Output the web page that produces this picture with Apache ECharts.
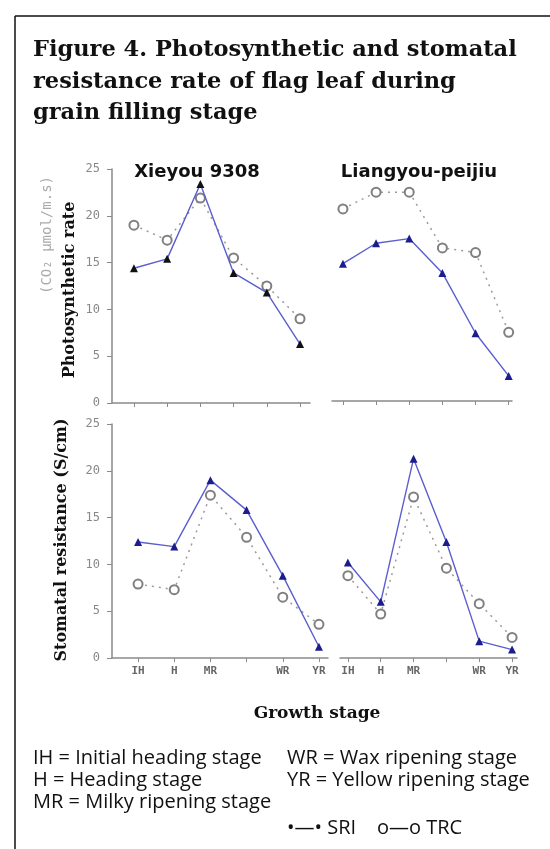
<!DOCTYPE html>
<html>
<head>
<meta charset="utf-8">
<script src="https://cdn.jsdelivr.net/npm/echarts@6/dist/echarts.min.js"></script>
<style>
  html, body { margin: 0; padding: 0; background: #fff; }
  #chart { width: 550px; height: 849px; }
</style>
</head>
<body>
<div id="chart"></div>
<script>
// growth stages (4th stage has no label in the original)
const stages = ['IH', 'H', 'MR', '', 'WR', 'YR'];
const stageIdx = [0, 1, 2, 3, 4, 5];

// photosynthetic rate
const xieyouPhotoSRI = [14.4, 15.4, 23.4, 13.9, 11.8, 6.3];
const xieyouPhotoTRC = [19.0, 17.4, 21.9, 15.5, 12.5, 9.0];
const liangyouPhotoSRI = [14.8, 17.0, 17.5, 13.8, 7.3, 2.7];
const liangyouPhotoTRC = [20.7, 22.5, 22.5, 16.5, 16.0, 7.4];

// stomatal resistance
const xieyouStomaSRI = [12.4, 11.9, 19.0, 15.8, 8.8, 1.2];
const xieyouStomaTRC = [7.9, 7.3, 17.4, 12.9, 6.5, 3.6];
const liangyouStomaSRI = [10.2, 6.0, 21.3, 12.4, 1.8, 0.9];
const liangyouStomaTRC = [8.8, 4.7, 17.2, 9.6, 5.8, 2.2];

const axisColor = '#8a8a8a';
const tickFont = '"DejaVu Sans Mono", monospace';

// panel layout: grid box + x range (in stage units)
const panels = [
  { left: 112, top: 169, width: 198, height: 234, xmin: -0.66, xmax: 5.3, yAxis: true, labels: false },
  { left: 332, top: 169, width: 180, height: 232, xmin: -0.33, xmax: 5.1, yAxis: false, labels: false },
  { left: 112, top: 424, width: 216, height: 234, xmin: -0.72, xmax: 5.25, yAxis: true, labels: true },
  { left: 340, top: 424, width: 177, height: 234, xmin: -0.24, xmax: 5.15, yAxis: false, labels: true },
];

const panelData = [
  [xieyouPhotoSRI, xieyouPhotoTRC, '#111111'],
  [liangyouPhotoSRI, liangyouPhotoTRC, '#1c1c8e'],
  [xieyouStomaSRI, xieyouStomaTRC, '#1c1c8e'],
  [liangyouStomaSRI, liangyouStomaTRC, '#1c1c8e'],
];

const toPairs = vals => vals.map((v, i) => [stageIdx[i], v]);

const grid = panels.map(p => ({ left: p.left, top: p.top, width: p.width, height: p.height }));

const xAxis = panels.map((p, i) => ({
  type: 'value',
  gridIndex: i,
  min: p.xmin,
  max: p.xmax,
  splitLine: { show: false },
  axisLine: { onZero: false, lineStyle: { color: axisColor, width: 1.5 } },
  axisTick: { show: true, customValues: stageIdx, length: 4, lineStyle: { color: axisColor } },
  axisLabel: {
    show: p.labels,
    customValues: stageIdx,
    formatter: v => stages[Math.round(v)],
    color: '#666',
    fontFamily: tickFont,
    fontWeight: 'bold',
    fontSize: 11,
    margin: 8,
  },
}));

const yAxis = panels.map((p, i) => ({
  type: 'value',
  gridIndex: i,
  min: 0,
  max: 25,
  interval: 5,
  show: p.yAxis,
  splitLine: { show: false },
  axisLine: { show: true, onZero: false, lineStyle: { color: axisColor, width: 1.5 } },
  axisTick: { show: true, length: 5, lineStyle: { color: axisColor } },
  axisLabel: { color: '#888', fontFamily: tickFont, fontSize: 12, margin: 12 },
}));

const series = [];
panelData.forEach(([sri, trc, markColor], i) => {
  series.push({
    name: 'TRC',
    type: 'line',
    xAxisIndex: i,
    yAxisIndex: i,
    data: toPairs(trc),
    symbol: 'emptyCircle',
    symbolSize: 9,
    showSymbol: true,
    lineStyle: { color: '#9a9a9a', width: 1.5, type: [2, 5] },
    itemStyle: { color: '#808080', borderWidth: 1.5 },
    z: 2,
  });
  series.push({
    name: 'SRI',
    type: 'line',
    xAxisIndex: i,
    yAxisIndex: i,
    data: toPairs(sri),
    symbol: 'triangle',
    symbolSize: 8,
    lineStyle: { color: '#5a5ecf', width: 1.4 },
    itemStyle: { color: markColor },
    z: 3,
  });
});

const serif = '"DejaVu Serif", "Liberation Serif", serif';
const sans = '"Open Sans", "Liberation Sans", sans-serif';

const txt = (text, x, y, font, opts = {}) => ({
  type: 'text',
  x: x,
  y: y,
  rotation: opts.rotation || 0,
  style: {
    text: text,
    x: 0,
    y: 0,
    font: font,
    fill: opts.fill || '#111',
    align: opts.align || 'left',
    verticalAlign: 'middle',
  },
});

const legendLines = [
  ['IH = Initial heading stage', 33, 758],
  ['H = Heading stage', 33, 780],
  ['MR = Milky ripening stage', 33, 802],
  ['WR = Wax ripening stage', 287, 758],
  ['YR = Yellow ripening stage', 287, 780],
  ['\u2022\u2014\u2022 SRI    o\u2014o TRC', 287, 828],
];

const graphic = [
  { type: 'line', shape: { x1: 15, y1: 16, x2: 550, y2: 16 }, style: { stroke: '#111', lineWidth: 1.5 } },
  { type: 'line', shape: { x1: 15, y1: 16, x2: 15, y2: 849 }, style: { stroke: '#111', lineWidth: 1.5 } },
  txt('Figure 4. Photosynthetic and stomatal', 33, 50, 'bold 22.5px ' + serif),
  txt('resistance rate of flag leaf during', 33, 82, 'bold 22.5px ' + serif),
  txt('grain filling stage', 33, 113, 'bold 22.5px ' + serif),
  txt('Xieyou 9308', 197, 172, 'bold 18px "DejaVu Sans", sans-serif', { align: 'center' }),
  txt('Liangyou-peijiu', 419, 172, 'bold 18px "DejaVu Sans", sans-serif', { align: 'center' }),
  txt('Photosynthetic rate', 70, 290, 'bold 16px ' + serif, { align: 'center', rotation: Math.PI / 2 }),
  txt('(CO\u2082 \u03bcmol/m.s)', 47, 235, '14px ' + tickFont, { align: 'center', rotation: Math.PI / 2, fill: '#aaa' }),
  txt('Stomatal resistance (S/cm)', 62, 540, 'bold 16px ' + serif, { align: 'center', rotation: Math.PI / 2 }),
  txt('Growth stage', 317, 714, 'bold 17px ' + serif, { align: 'center' }),
].concat(legendLines.map(([t, x, y]) => txt(t, x, y, '20px ' + sans)));

const chart = echarts.init(document.getElementById('chart'));
chart.setOption({
  animation: false,
  backgroundColor: '#fff',
  grid: grid,
  xAxis: xAxis,
  yAxis: yAxis,
  series: series,
  graphic: graphic,
});
</script>
</body>
</html>
